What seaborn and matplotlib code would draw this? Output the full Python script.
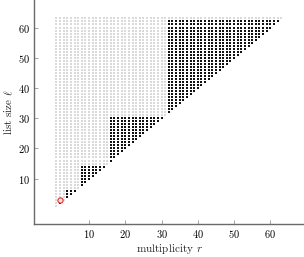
import numpy as np
import pandas as pd
import matplotlib
matplotlib.use("Agg")
import matplotlib.pyplot as plt
import seaborn as sns

# ---- data ----
r_max = 63            # largest multiplicity on the grid
l_max = 63            # largest list size on the grid
block_r_start = [2, 4, 8, 16, 32]   # feasible blocks (black)
block_r_end = [3, 7, 15, 31, 63]
block_l_top = [2, 6, 14, 30, 62]
highlight_r = [2]
highlight_l = [3]
x_ticks = [10, 20, 30, 40, 50, 60]
y_ticks = [10, 20, 30, 40, 50, 60]

# all grid points with l >= r
gr, gl = [], []
for r in range(1, r_max + 1):
    for l in range(r, l_max + 1):
        gr.append(r); gl.append(l)
grid = pd.DataFrame({"r": gr, "l": gl})

br, bl = [], []
for s, e, t in zip(block_r_start, block_r_end, block_l_top):
    for r in range(s, e + 1):
        for l in range(r, t + 1):
            br.append(r); bl.append(l)
blk = pd.DataFrame({"r": br, "l": bl})
hl = pd.DataFrame({"r": highlight_r, "l": highlight_l})

sns.set_theme(style="ticks")
plt.rcParams["font.family"] = "serif"
plt.rcParams["font.serif"] = ["cmr10", "DejaVu Serif"]
plt.rcParams["mathtext.fontset"] = "cm"
plt.rcParams["axes.formatter.use_mathtext"] = True

fig = plt.figure(figsize=(3.04, 2.57), dpi=100)
ax = fig.add_axes([34 / 304, 33 / 257, 1 - 34 / 304, 1 - 33 / 257])

sns.scatterplot(data=grid, x="r", y="l", ax=ax, s=0.8, color="#dadada",
                marker="s", linewidth=0, legend=False)
sns.scatterplot(data=blk, x="r", y="l", ax=ax, s=1.2, color="#111111",
                marker="s", linewidth=0, legend=False)
sns.scatterplot(data=hl, x="r", y="l", ax=ax, s=14, facecolor="#ffe0e0",
                edgecolor="#e03030", linewidth=0.8, legend=False)

ax.set_xlim(-5.2, 69.3)
ax.set_ylim(-5.0, 69.1)
ax.set_xticks(x_ticks)
ax.set_yticks(y_ticks)
ax.tick_params(direction="in", length=3, width=0.5, colors="#808080",
               labelcolor="black", labelsize=7.5, pad=3)
for sp in ["top", "right"]:
    ax.spines[sp].set_visible(False)
for sp in ["left", "bottom"]:
    ax.spines[sp].set_color("#6a6a6a")
    ax.spines[sp].set_linewidth(1.0)
ax.set_xlabel(r"multiplicity $r$", fontsize=8, labelpad=1)
ax.set_ylabel(r"list size $\ell$", fontsize=8, labelpad=2)
ax.grid(False)

fig.savefig("out.png", dpi=100)
